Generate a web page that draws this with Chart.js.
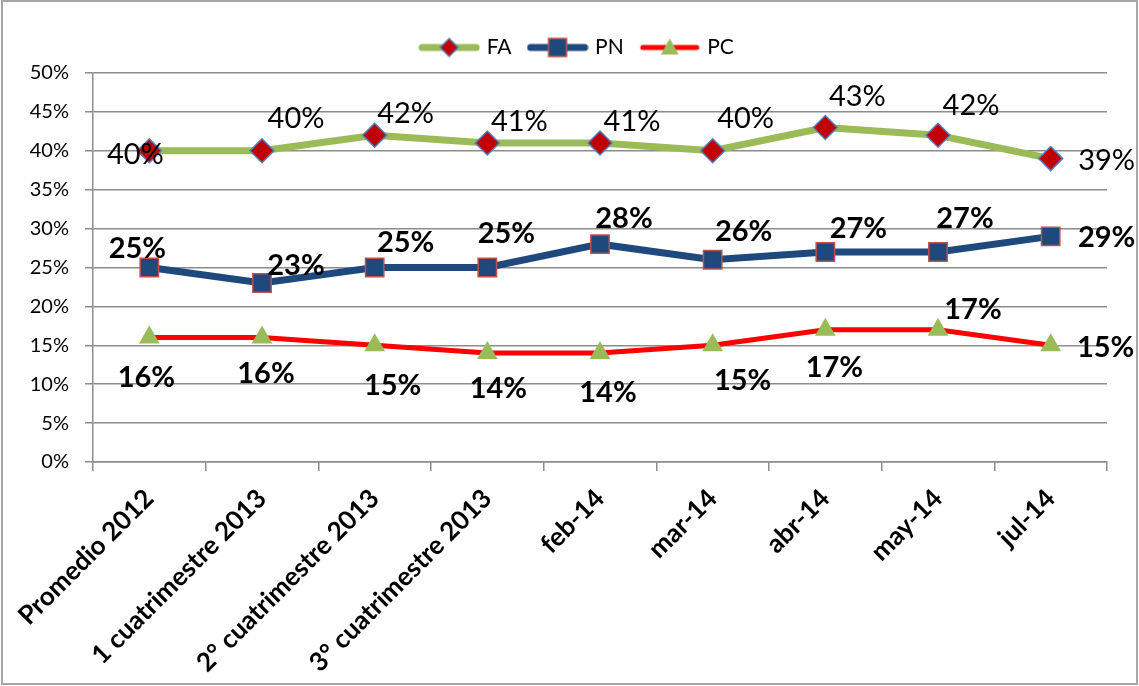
<!DOCTYPE html>
<html>
<head>
<meta charset="utf-8">
<script src="https://cdn.jsdelivr.net/npm/chart.js@4.4.1/dist/chart.umd.min.js"></script>
<style>
  html, body { margin: 0; padding: 0; background: #fff; }
  #wrap { position: relative; width: 1139px; height: 686px; }
  #frame { position: absolute; left: 1px; top: 0; right: 1px; bottom: 1px; border: 2px solid #a6a6a6; pointer-events: none; }
  canvas { position: absolute; left: 0; top: 0; }
</style>
</head>
<body>
<div id="wrap">
  <canvas id="chart" width="1139" height="686"></canvas>
  <div id="frame"></div>
</div>
<script>
// datos
const categories = ["Promedio 2012", "1 cuatrimestre 2013", "2° cuatrimestre 2013", "3° cuatrimestre 2013",
  "feb-14", "mar-14", "abr-14", "may-14", "jul-14"];
const faValues = [40, 40, 42, 41, 41, 40, 43, 42, 39];
const pnValues = [25, 23, 25, 25, 28, 26, 27, 27, 29];
const pcValues = [16, 16, 15, 14, 14, 15, 17, 17, 15];
const yTicks = [0, 5, 10, 15, 20, 25, 30, 35, 40, 45, 50];

// donde va cada etiqueta respecto a su punto (dx, dy)
const labelOffsets = [
  [[-14, 4], [34, -32], [31, -22], [32, -21], [32, -21], [33, -32], [32, -31], [33, -30], [56, 2]],
  [[-12, -19], [34, -17], [31, -25], [19, -34], [24, -26], [31, -28], [33, -23], [27, -33], [56, 1]],
  [[-3, 40], [4, 36], [18, 40], [11, 36], [8, 40], [30, 35], [9, 38], [35, -20], [55, 2]]
];
const labelBold = [false, true, true];

const FONT = "Lato, 'Open Sans', sans-serif";
const GRID = "#8c8c8c";

// icono de leyenda: linea + marcador
function legendIcon(color, lw, marker, fill, stroke) {
  const c = document.createElement("canvas");
  c.width = 62; c.height = 26;
  const g = c.getContext("2d");
  g.strokeStyle = color; g.lineWidth = lw; g.lineCap = "round";
  g.beginPath(); g.moveTo(4, 13); g.lineTo(58, 13); g.stroke();
  g.fillStyle = fill; g.strokeStyle = stroke; g.lineWidth = 1.5;
  g.beginPath();
  if (marker === "diamond") {
    g.moveTo(31, 4); g.lineTo(40, 13); g.lineTo(31, 22); g.lineTo(22, 13); g.closePath();
  } else if (marker === "square") {
    g.rect(22, 4, 18, 18);
  } else {
    g.moveTo(31, 4); g.lineTo(40, 20); g.lineTo(22, 20); g.closePath();
  }
  g.fill();
  if (stroke) g.stroke();
  return c;
}

const icons = [
  legendIcon("#9BBB59", 7, "diamond", "#C00000", "#4F81BD"),
  legendIcon("#1F497D", 7, "square", "#1F497D", "#C0504D"),
  legendIcon("#FF0000", 5, "triangle", "#9BBB59", null)
];

const valueLabels = {
  id: "valueLabels",
  afterLayout(chart) {
    // la leyenda en el original esta algo corrida a la derecha y arriba
    chart.legend.left += 22;
    chart.legend.right += 22;
    chart.legend.top -= 5;
    chart.legend.bottom -= 5;
  },
  afterDatasetsDraw(chart) {
    const ctx = chart.ctx;
    ctx.save();
    ctx.textAlign = "center";
    ctx.textBaseline = "middle";
    ctx.fillStyle = "#000";
    chart.data.datasets.forEach((ds, i) => {
      const meta = chart.getDatasetMeta(i);
      ctx.font = (labelBold[i] ? "bold " : "") + "29px " + FONT;
      meta.data.forEach((pt, j) => {
        const off = labelOffsets[i][j];
        ctx.fillText(ds.data[j] + "%", pt.x + off[0], pt.y + off[1]);
      });
    });
    ctx.restore();
  }
};

new Chart(document.getElementById("chart"), {
  type: "line",
  data: {
    labels: categories,
    datasets: [
      {
        label: "FA", data: faValues,
        borderColor: "#9BBB59", borderWidth: 7,
        pointStyle: "rectRot", pointRadius: 12,
        pointBackgroundColor: "#C00000", pointBorderColor: "#4F81BD", pointBorderWidth: 1.5
      },
      {
        label: "PN", data: pnValues,
        borderColor: "#1F497D", borderWidth: 7,
        pointStyle: "rect", pointRadius: 13,
        pointBackgroundColor: "#1F497D", pointBorderColor: "#C0504D", pointBorderWidth: 1.5
      },
      {
        label: "PC", data: pcValues,
        borderColor: "#FF0000", borderWidth: 5,
        pointStyle: "triangle", pointRadius: 12,
        pointBackgroundColor: "#9BBB59", pointBorderColor: "#9BBB59", pointBorderWidth: 0
      }
    ]
  },
  options: {
    responsive: false,
    animation: false,
    layout: { padding: { left: 5, right: 32, top: 23, bottom: 4 } },
    plugins: {
      legend: {
        position: "top",
        labels: {
          font: { family: FONT, size: 21 },
          color: "#000",
          usePointStyle: true,
          pointStyleWidth: 54,
          padding: 19,
          generateLabels(chart) {
            const items = Chart.defaults.plugins.legend.labels.generateLabels(chart);
            items.forEach((it, i) => { it.pointStyle = icons[i]; });
            return items;
          }
        }
      },
      tooltip: { enabled: false }
    },
    scales: {
      x: {
        offset: true,
        grid: { offset: true, drawOnChartArea: false, color: GRID, lineWidth: 1.5, tickLength: 9 },
        border: { color: GRID, width: 1.5 },
        ticks: {
          maxRotation: 45, minRotation: 45, autoSkip: false,
          color: "#000", font: { family: FONT, size: 26, weight: "bold" }, padding: 12
        },
        afterFit(scale) { scale.height = 220; }
      },
      y: {
        min: 0, max: 50,
        afterBuildTicks(scale) { scale.ticks = yTicks.map(v => ({ value: v })); },
        grid: { color: GRID, lineWidth: 1.5, tickLength: 8 },
        border: { color: GRID, width: 1.5 },
        ticks: {
          color: "#000", font: { family: FONT, size: 20 }, padding: 16,
          callback: v => v + "%"
        },
        afterFit(scale) { scale.width = 88; }
      }
    }
  },
  plugins: [valueLabels]
});
</script>
</body>
</html>
